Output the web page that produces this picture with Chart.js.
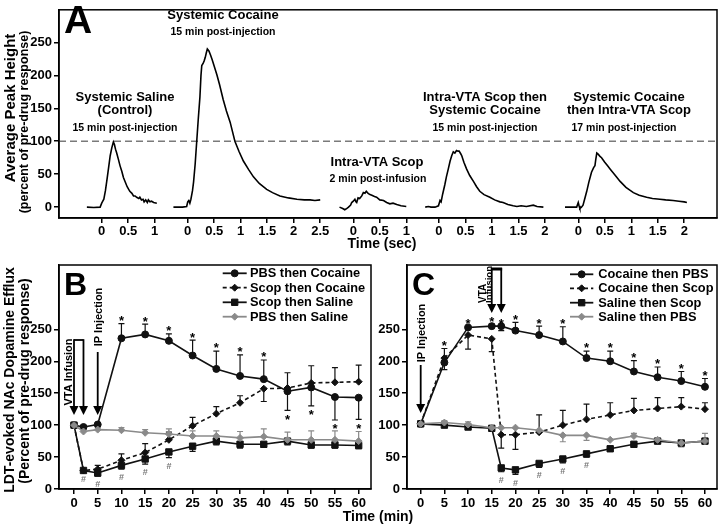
<!DOCTYPE html>
<html><head><meta charset="utf-8">
<script src="https://cdn.jsdelivr.net/npm/chart.js@4.4.1/dist/chart.umd.min.js"></script>
<style>
html,body{margin:0;padding:0;background:#fff;}
#wrap{position:relative;width:720px;height:525px;overflow:hidden;background:#fff;}
#wrap canvas{position:absolute;left:0;top:0;}
</style></head><body>
<div id="wrap">
<canvas id="cA" width="720" height="525"></canvas>
<canvas id="cB" width="720" height="525"></canvas>
<canvas id="cC" width="720" height="525"></canvas>
</div>
<script>
// ================= DATA =================
// Panel A: evoked dopamine traces, [time (sec), % of pre-drug response]
const salineTrace = [[-0.28,0],[-0.15,-0.5],[-0.03,0],[0,6],[0.02,9],[0.04,12],[0.07,25],[0.1,42],[0.13,60],[0.16,78],[0.19,90],[0.22,99],[0.24,95],[0.26,88],[0.28,83],[0.31,74],[0.345,63],[0.38,54],[0.41,45],[0.44,39],[0.48,31],[0.53,24],[0.57,21],[0.6,17],[0.63,17],[0.66,15],[0.7,13],[0.72,15],[0.75,11],[0.78,12],[0.8,8],[0.83,11],[0.86,7],[0.88,11],[0.91,8],[0.94,9],[0.98,7],[1.04,6]];
const cocaineTrace = [[-0.27,0],[-0.1,0],[-0.02,1],[0,8],[0.02,10],[0.04,6],[0.06,12],[0.09,25],[0.11,38],[0.14,65],[0.17,100],[0.2,135],[0.23,167],[0.25,200],[0.265,215],[0.29,218],[0.31,222],[0.33,227],[0.35,234],[0.37,240],[0.4,237],[0.43,231],[0.46,224],[0.5,214],[0.55,201],[0.6,186],[0.67,163],[0.73,146],[0.8,129],[0.89,100],[0.97,84],[1.05,70],[1.15,57],[1.24,46],[1.35,36],[1.49,27],[1.6,22],[1.74,17],[1.9,14],[2.06,12],[2.2,11],[2.31,11],[2.4,10],[2.5,11]];
const scopTrace = [[-0.26,0],[-0.2,-2],[-0.16,-4],[-0.12,-2],[-0.09,0],[-0.05,3],[-0.03,7],[0,9],[0.03,12],[0.05,8],[0.064,7],[0.09,14],[0.12,13],[0.16,17],[0.19,22],[0.22,21],[0.245,24],[0.28,21],[0.315,19],[0.35,18],[0.4,16],[0.44,15],[0.5,11],[0.57,10],[0.63,7],[0.69,5],[0.75,6],[0.82,4],[0.9,2],[1.0,1]];
const scopThenCocaineTrace = [[-0.26,0],[-0.2,1],[-0.15,0],[-0.075,0],[-0.01,2],[0.02,10],[0.04,8],[0.07,20],[0.11,34],[0.14,46],[0.176,58],[0.21,70],[0.24,78],[0.27,84],[0.3,82],[0.33,86],[0.36,85],[0.38,85],[0.41,81],[0.43,78],[0.47,68],[0.52,58],[0.58,48],[0.65,39],[0.71,31],[0.77,24],[0.85,19],[0.96,15],[1.05,11],[1.15,8],[1.21,7],[1.3,4],[1.4,2],[1.47,1],[1.55,2],[1.65,1],[1.78,3],[1.85,1],[1.97,0]];
const cocaineThenScopTrace = [[-0.25,0],[-0.1,0],[-0.03,0],[0,7],[0.015,2],[0.03,-2],[0.06,0],[0.09,3],[0.12,12],[0.16,24],[0.2,38],[0.25,53],[0.29,60],[0.315,63],[0.33,72],[0.35,82],[0.38,80],[0.41,77],[0.44,75],[0.5,68],[0.55,63],[0.6,58],[0.7,48],[0.79,39],[0.9,30],[1.04,22],[1.15,18],[1.29,15],[1.4,13],[1.54,12],[1.65,11],[1.79,10],[1.9,9],[2.0,8],[2.05,7]];
const aTickLabels = [['0','0.5','1'],['0','0.5','1','1.5','2','2.5'],['0','0.5','1'],['0','0.5','1','1.5','2'],['0','0.5','1','1.5','2']];
const aYTicks = [0,50,100,150,200,250];
const aRefLevel = 100;

// Panel B
const bTimes = [0,2,5,10,15,20,25,30,35,40,45,50,55,60];
const bPbsCocaine    = [100,97,101,236,242,232,209,188,177,172,153,159,144,143];
const bPbsCocaineErr = [0,0,0,23,16,11,24,28,33,30,-30,-29,-36,-34];
const bScopCocaine    = [100,29,31,45,57,77,99,118,135,157,158,166,167,168];
const bScopCocaineErr = [0,0,6,10,14,12,13,11,11,-20,24,27,23,26];
const bScopSaline    = [100,29,25,37,47,58,67,75,70,70,75,69,69,68];
const bScopSalineErr = [0,0,-5,-6,-8,-9,-8,-6,-6,-5,-6,-5,-5,-5];
const bPbsSaline    = [100,90,93,92,88,86,83,83,80,82,77,77,77,75];
const bPbsSalineErr = [0,3,4,4,5,8,8,8,10,12,12,14,14,15];
const bXTicks = [0,5,10,15,20,25,30,35,40,45,50,55,60];
const bYTicks = [0,50,100,150,200,250];
const bStarAbove = [10,15,20,25,30,35,40];
const bStarBelow = [45,50,55,60];
const bHash = [2,5,10,15,20];
const bVtaInfusion = [0,2];
const bIpInjection = 5;

// Panel C
const cTimes = [0,5,10,15,17,20,25,30,35,40,45,50,55,60];
const cCocainePbs    = [102,198,253,255,255,248,241,231,205,200,184,175,169,160];
const cCocainePbsErr = [0,22,2,3,-7,13,14,23,11,16,17,16,15,13];
const cCocaineScop    = [102,205,241,235,85,85,89,100,109,116,123,126,129,125];
const cCocaineScopErr = [0,-18,-22,-20,-21,-23,27,23,24,19,19,17,14,10];
const cSalineScop    = [102,100,97,95,33,30,40,47,55,63,70,75,72,75];
const cSalineScopErr = [0,0,0,0,-6,-7,-6,-6,-5,-4,-4,-4,-4,-4];
const cSalinePbs    = [102,104,101,96,96,96,92,84,84,77,83,77,72,75];
const cSalinePbsErr = [0,3,4,3,0,0,0,-10,-8,0,4,-5,-6,12];
const cXTicks = [0,5,10,15,20,25,30,35,40,45,50,55,60];
const cYTicks = [0,50,100,150,200,250];
const cStarAbove = [5,10,15,17,20,25,30,35,40,45,50,55,60];
const cHash = [17,20,25,30,35];
const cIpInjection = 0;
const cVtaInfusion = [15,17];

// ================= LAYOUT / STYLE =================
const FONT = '"Liberation Sans", Arial, Helvetica, sans-serif';
const BLACK = '#111', GRAY = '#8a8a8a';
const aSegOffset = [0, 1.623, 4.747, 6.364, 8.992];
Chart.defaults.font.family = FONT;
Chart.defaults.color = '#000';

function txt(ctx, s, x, y, size, o) {
  o = o || {};
  ctx.save();
  ctx.font = 'bold ' + size + 'px ' + FONT;
  ctx.fillStyle = o.color || '#000';
  ctx.textAlign = o.align || 'center';
  ctx.textBaseline = o.baseline || 'middle';
  ctx.translate(x, y);
  if (o.rot) ctx.rotate(o.rot);
  ctx.fillText(s, 0, 0);
  ctx.restore();
}
function drawMarker(ctx, style, x, y, r, color) {
  ctx.save(); ctx.fillStyle = color; ctx.strokeStyle = color; ctx.lineWidth = 1; ctx.setLineDash([]);
  ctx.beginPath();
  if (style === 'circle') ctx.arc(x, y, r, 0, Math.PI * 2);
  else if (style === 'rect') { const s = r * Math.SQRT1_2; ctx.rect(x - s, y - s, 2 * s, 2 * s); }
  else { ctx.moveTo(x, y - r); ctx.lineTo(x + r, y); ctx.lineTo(x, y + r); ctx.lineTo(x - r, y); ctx.closePath(); }
  ctx.fill(); ctx.stroke(); ctx.restore();
}
function arrowDown(ctx, x, yTop, yTip) {
  ctx.beginPath(); ctx.moveTo(x, yTop); ctx.lineTo(x, yTip - 6); ctx.stroke();
  ctx.beginPath(); ctx.moveTo(x - 4.5, yTip - 9); ctx.lineTo(x + 4.5, yTip - 9); ctx.lineTo(x, yTip); ctx.closePath(); ctx.fill();
}
const framePlugin = { id: 'frame', afterDraw(chart) {
  const { ctx, chartArea: a } = chart;
  ctx.save(); ctx.strokeStyle = '#000'; ctx.lineWidth = 1.5;
  ctx.strokeRect(a.left, a.top, a.right - a.left, a.bottom - a.top); ctx.restore();
}};
const errorBarPlugin = { id: 'errbars', beforeDatasetsDraw(chart) {
  const ctx = chart.ctx, ys = chart.scales.y;
  chart.data.datasets.forEach((ds, di) => {
    if (!ds.errors) return;
    const meta = chart.getDatasetMeta(di);
    ctx.save(); ctx.strokeStyle = ds.borderColor; ctx.lineWidth = 1.2; ctx.setLineDash([]);
    ds.errors.forEach((e, i) => {
      if (!e) return;
      const pt = meta.data[i], v = ds.data[i].y;
      const y0 = ys.getPixelForValue(v), y1 = ys.getPixelForValue(v + e);
      ctx.beginPath(); ctx.moveTo(pt.x, y0); ctx.lineTo(pt.x, y1);
      ctx.moveTo(pt.x - 3, y1); ctx.lineTo(pt.x + 3, y1); ctx.stroke();
    });
    ctx.restore();
  });
}};
function makeSig(cfg) {
  return { id: 'sig', afterDatasetsDraw(chart) {
    const ctx = chart.ctx, xs = chart.scales.x, ys = chart.scales.y;
    const sd = chart.data.datasets[cfg.starDs], hd = chart.data.datasets[cfg.hashDs];
    const idx = (ds, t) => ds.data.findIndex(p => p.x === t);
    cfg.above.forEach(t => {
      const i = idx(sd, t); const e = sd.errors[i];
      const y = ys.getPixelForValue(sd.data[i].y + Math.max(e, 0)) - 6;
      txt(ctx, '*', xs.getPixelForValue(t), y + 7.4, 13, { baseline: 'alphabetic' });
    });
    cfg.below.forEach(t => {
      const i = idx(sd, t); const e = sd.errors[i];
      const y = ys.getPixelForValue(sd.data[i].y + Math.min(e, 0)) + 6;
      txt(ctx, '*', xs.getPixelForValue(t), y + 7.4, 13, { baseline: 'alphabetic' });
    });
    cfg.hash.forEach(t => {
      const i = idx(hd, t); const e = hd.errors[i];
      const y = ys.getPixelForValue(hd.data[i].y + Math.min(e, 0)) + 8;
      txt(ctx, '#', xs.getPixelForValue(t), y + 3.2, 9, { baseline: 'alphabetic', color: '#777' });
    });
  }};
}
function makeLegend(cfg) {
  return { id: 'clegend', afterDraw(chart) {
    const ctx = chart.ctx;
    cfg.order.forEach((di, k) => {
      const ds = chart.data.datasets[di], y = cfg.ys[k];
      ctx.save(); ctx.strokeStyle = ds.borderColor; ctx.lineWidth = 1.8; ctx.setLineDash(ds.borderDash || []);
      ctx.beginPath(); ctx.moveTo(cfg.x0, y); ctx.lineTo(cfg.x1, y); ctx.stroke(); ctx.restore();
      drawMarker(ctx, ds.pointStyle, (cfg.x0 + cfg.x1) / 2, y, ds.pointRadius, ds.borderColor);
      txt(ctx, ds.label, cfg.tx, y + 0.5, 12.8, { align: 'left' });
    });
  }};
}
function makeNotes(fnBefore, fnAfter) {
  return { id: 'notes', beforeDatasetsDraw(chart) { if (fnBefore) fnBefore(chart.ctx, chart); },
    afterDraw(chart) { if (fnAfter) fnAfter(chart.ctx, chart); } };
}
function tickFont() { return { family: FONT, size: 13, weight: 'bold' }; }
function axisCfg(extra) {
  return Object.assign({
    type: 'linear',
    grid: { display: true, drawOnChartArea: false, drawTicks: true, tickLength: 5, color: '#000', lineWidth: 1.5 },
    border: { display: true, color: '#000', width: 1.5 },
    ticks: { color: '#000', font: tickFont(), padding: 2, autoSkip: false, maxRotation: 0, minRotation: 0 }
  }, extra);
}
function series(times, vals, errs, label, color, point, r, dash) {
  return { label, data: times.map((t, i) => ({ x: t, y: vals[i] })), errors: errs,
    borderColor: color, backgroundColor: color, pointBackgroundColor: color, pointBorderColor: color,
    borderWidth: 1.6, borderDash: dash || [], pointStyle: point, pointRadius: r, pointBorderWidth: 1,
    tension: 0, fill: false, clip: false };
}

// ================= PANEL A =================
const aTickValues = [], aTickText = [];
aTickLabels.forEach((labs, s) => labs.forEach(l => { aTickValues.push(aSegOffset[s] + parseFloat(l)); aTickText.push(l); }));
const aTraces = [salineTrace, cocaineTrace, scopTrace, scopThenCocaineTrace, cocaineThenScopTrace];
new Chart(document.getElementById('cA'), {
  type: 'line',
  data: { datasets: aTraces.map((tr, s) => ({
    label: 'trace' + (s + 1),
    data: tr.map(p => ({ x: aSegOffset[s] + p[0], y: p[1] })),
    borderColor: '#000', borderWidth: 1.6, pointRadius: 0, tension: 0, fill: false
  })) },
  options: {
    responsive: false, animation: false, events: [], devicePixelRatio: 1,
    layout: { padding: { left: 0, top: 1, right: 3, bottom: 265 }, autoPadding: false },
    plugins: { legend: { display: false }, tooltip: { enabled: false } },
    scales: {
      x: axisCfg({ min: -0.806, max: 11.61,
        afterBuildTicks: s => { s.ticks = aTickValues.map(v => ({ value: v })); },
        afterFit: s => { s.height = 42; },
        ticks: { color: '#000', font: tickFont(), padding: 1, autoSkip: false, maxRotation: 0, minRotation: 0,
          callback: (v, i) => aTickText[i] } }),
      y: axisCfg({ min: -16.5, max: 299.5,
        afterBuildTicks: s => { s.ticks = aYTicks.map(v => ({ value: v })); },
        afterFit: s => { s.width = 59; } })
    }
  },
  plugins: [framePlugin, makeNotes((ctx, ch) => {
    const y = ch.scales.y.getPixelForValue(aRefLevel), a = ch.chartArea;
    ctx.save(); ctx.strokeStyle = '#7a7a7a'; ctx.lineWidth = 1.5; ctx.setLineDash([7, 4]);
    ctx.beginPath(); ctx.moveTo(a.left, y); ctx.lineTo(a.right, y); ctx.stroke(); ctx.restore();
  }, (ctx) => {
    txt(ctx, 'A', 64, 33, 39, { align: 'left', baseline: 'alphabetic' });
    txt(ctx, 'Average Peak Height', 11, 108, 15, { rot: -Math.PI / 2 });
    txt(ctx, '(percent of pre-drug response)', 25, 122, 12.5, { rot: -Math.PI / 2 });
    txt(ctx, 'Time (sec)', 382, 244, 14);
    txt(ctx, 'Systemic Saline', 125, 97, 13);
    txt(ctx, '(Control)', 125, 110.5, 13);
    txt(ctx, '15 min post-injection', 125, 127.7, 10.5);
    txt(ctx, 'Systemic Cocaine', 223, 15, 13);
    txt(ctx, '15 min post-injection', 223, 32.3, 10.5);
    txt(ctx, 'Intra-VTA Scop', 377, 162, 13);
    txt(ctx, '2 min post-infusion', 378, 179, 10.5);
    txt(ctx, 'Intra-VTA Scop then', 485, 97, 13);
    txt(ctx, 'Systemic Cocaine', 485, 110.5, 13);
    txt(ctx, '15 min post-injection', 485, 127.7, 10.5);
    txt(ctx, 'Systemic Cocaine', 629, 97, 13);
    txt(ctx, 'then Intra-VTA Scop', 629, 110.5, 13);
    txt(ctx, '17 min post-injection', 624, 127.7, 10.5);
  })]
});

// ================= PANEL B =================
new Chart(document.getElementById('cB'), {
  type: 'line',
  data: { datasets: [
    series(bTimes, bPbsSaline, bPbsSalineErr, 'PBS then Saline', GRAY, 'rectRot', 3.5),
    series(bTimes, bScopSaline, bScopSalineErr, 'Scop then Saline', BLACK, 'rect', 4.5),
    series(bTimes, bScopCocaine, bScopCocaineErr, 'Scop then Cocaine', BLACK, 'rectRot', 3.5, [4, 3]),
    series(bTimes, bPbsCocaine, bPbsCocaineErr, 'PBS then Cocaine', BLACK, 'circle', 3.5)
  ] },
  options: {
    responsive: false, animation: false, events: [], devicePixelRatio: 1,
    layout: { padding: { left: 0, top: 265, right: 349, bottom: 8 }, autoPadding: false },
    plugins: { legend: { display: false }, tooltip: { enabled: false } },
    scales: {
      x: axisCfg({ min: -3.16, max: 62.6,
        afterBuildTicks: s => { s.ticks = bXTicks.map(v => ({ value: v })); },
        afterFit: s => { s.height = 28; } }),
      y: axisCfg({ min: 0, max: 350.7,
        afterBuildTicks: s => { s.ticks = bYTicks.map(v => ({ value: v })); },
        afterFit: s => { s.width = 59; } })
    }
  },
  plugins: [framePlugin, errorBarPlugin,
    makeSig({ starDs: 3, above: bStarAbove, below: bStarBelow, hashDs: 1, hash: bHash }),
    makeLegend({ order: [3, 2, 1, 0], ys: [273.3, 287.7, 302.3, 316.7], x0: 222.7, x1: 246.7, tx: 250 }),
    makeNotes(null, (ctx, ch) => {
      const xs = ch.scales.x;
      txt(ctx, 'B', 64, 295, 32, { align: 'left', baseline: 'alphabetic' });
      txt(ctx, 'LDT-evoked NAc Dopamine Efflux', 10, 380, 14, { rot: -Math.PI / 2 });
      txt(ctx, '(Percent of pre-drug response)', 25, 381, 14, { rot: -Math.PI / 2 });
      ctx.save(); ctx.strokeStyle = '#000'; ctx.fillStyle = '#000'; ctx.lineWidth = 1.8;
      const x0 = xs.getPixelForValue(bVtaInfusion[0]), x1 = xs.getPixelForValue(bVtaInfusion[1]);
      ctx.beginPath(); ctx.moveTo(x0, 340); ctx.lineTo(x1, 340); ctx.stroke();
      arrowDown(ctx, x0, 339.2, 415); arrowDown(ctx, x1, 339.2, 415);
      arrowDown(ctx, xs.getPixelForValue(bIpInjection), 352, 415);
      ctx.restore();
      txt(ctx, 'VTA Infusion', 68.5, 372, 11, { rot: -Math.PI / 2 });
      txt(ctx, 'IP Injection', 99, 317, 11, { rot: -Math.PI / 2 });
    })]
});

// ================= PANEL C =================
new Chart(document.getElementById('cC'), {
  type: 'line',
  data: { datasets: [
    series(cTimes, cSalinePbs, cSalinePbsErr, 'Saline then PBS', GRAY, 'rectRot', 3.5),
    series(cTimes, cSalineScop, cSalineScopErr, 'Saline then Scop', BLACK, 'rect', 4.5),
    series(cTimes, cCocaineScop, cCocaineScopErr, 'Cocaine then Scop', BLACK, 'rectRot', 3.5, [4, 3]),
    series(cTimes, cCocainePbs, cCocainePbsErr, 'Cocaine then PBS', BLACK, 'circle', 3.5)
  ] },
  options: {
    responsive: false, animation: false, events: [], devicePixelRatio: 1,
    layout: { padding: { left: 367, top: 265, right: 3, bottom: 8 }, autoPadding: false },
    plugins: { legend: { display: false }, tooltip: { enabled: false } },
    scales: {
      x: axisCfg({ min: -2.89, max: 62.54,
        afterBuildTicks: s => { s.ticks = cXTicks.map(v => ({ value: v })); },
        afterFit: s => { s.height = 28; } }),
      y: axisCfg({ min: 0, max: 350.7,
        afterBuildTicks: s => { s.ticks = cYTicks.map(v => ({ value: v })); },
        afterFit: s => { s.width = 40; } })
    }
  },
  plugins: [framePlugin, errorBarPlugin,
    makeSig({ starDs: 3, above: cStarAbove, below: [], hashDs: 1, hash: cHash }),
    makeLegend({ order: [3, 2, 1, 0], ys: [274.3, 288.3, 302.7, 316.7], x0: 570, x1: 593.3, tx: 598.3 }),
    makeNotes(null, (ctx, ch) => {
      const xs = ch.scales.x;
      txt(ctx, 'C', 412, 295, 32, { align: 'left', baseline: 'alphabetic' });
      txt(ctx, 'Time (min)', 378, 517, 14);
      ctx.save(); ctx.strokeStyle = '#000'; ctx.fillStyle = '#000'; ctx.lineWidth = 1.8;
      arrowDown(ctx, xs.getPixelForValue(cIpInjection), 365, 413);
      const x0 = xs.getPixelForValue(cVtaInfusion[0]), x1 = xs.getPixelForValue(cVtaInfusion[1]);
      ctx.fillRect(x0 - 0.9, 267.5, x1 - x0 + 1.8, 3);
      arrowDown(ctx, x0, 268, 313); arrowDown(ctx, x1, 268, 313);
      ctx.restore();
      txt(ctx, 'IP Injection', 421.5, 333, 11, { rot: -Math.PI / 2 });
      txt(ctx, 'VTA', 483, 303, 10, { rot: -Math.PI / 2, align: 'left' });
      txt(ctx, 'Infusion', 489.5, 303, 9.5, { rot: -Math.PI / 2, align: 'left' });
    })]
});
</script>
</body></html>
